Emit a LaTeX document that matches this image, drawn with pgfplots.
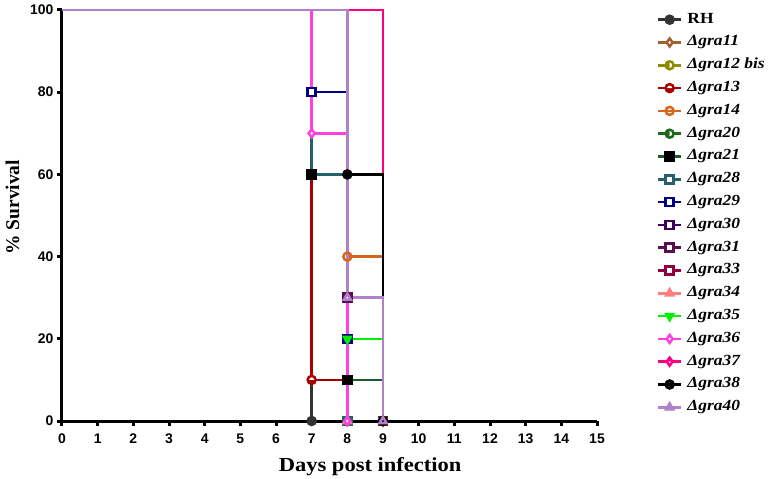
\documentclass[border=0pt]{standalone}
\usepackage{fontspec}
\setmainfont{Liberation Serif}
\newfontfamily\arialfont{Liberation Sans}
\newfontfamily\stretchserif[FakeStretch=1.13]{Liberation Serif}
\usepackage{pgfplots}
\pgfplotsset{compat=1.18}
\usetikzlibrary{plotmarks}
\definecolor{cRH}{HTML}{333333}
\definecolor{c11}{HTML}{A0622D}
\definecolor{c12}{HTML}{8C8C00}
\definecolor{c13}{HTML}{A80000}
\definecolor{c14}{HTML}{D8661A}
\definecolor{c20}{HTML}{1B6B1B}
\definecolor{c21}{HTML}{1A5C30}
\definecolor{c28}{HTML}{24606E}
\definecolor{c29}{HTML}{000080}
\definecolor{c30}{HTML}{3F0060}
\definecolor{c31}{HTML}{5A1050}
\definecolor{c33}{HTML}{900040}
\definecolor{c34}{HTML}{FF7F7F}
\definecolor{c35}{HTML}{00F000}
\definecolor{c36}{HTML}{FF40E0}
\definecolor{c37}{HTML}{FF0080}
\definecolor{c38}{HTML}{000000}
\definecolor{c40}{HTML}{B080C8}
\pgfplotsset{
  km/.style={const plot, line width=2.5bp, forget plot, no marks},
  mk/.style={only marks, line width=2.5bp, mark size=4bp, mark options={line width=1.3bp}},
}
\begin{document}
\begin{tikzpicture}
\begin{axis}[
  scale only axis, width=535bp, height=411bp,
  xmin=0, xmax=15, ymin=0, ymax=100,
  axis lines=left, axis line style={line width=3bp, -},
  xtick={0,1,...,15}, ytick={0,20,...,100},
  tick style={line width=3bp, black}, tick align=outside, major tick length=5bp,
  ticklabel style={font=\arialfont\bfseries\fontsize{14}{14}\selectfont},
  xticklabel style={yshift=-4.5bp},
  /pgf/number format/assume math mode=true,
  xlabel={Days post infection}, ylabel={\% Survival},
  every axis x label/.style={at={(axis description cs:0.576,-0.124)}, anchor=base,
    font=\stretchserif\bfseries\fontsize{20}{20}\selectfont},
  every axis y label/.style={at={(axis description cs:-0.0925,0.52)}, anchor=center, rotate=90,
    font=\bfseries\fontsize{19.5}{20}\selectfont},
  clip=false,
  legend cell align=left,
  legend style={at={(1.106,1.0)}, anchor=north west, draw=none, fill=none,
    font=\stretchserif\bfseries\itshape\fontsize{15.5}{15.5}\selectfont,
    row sep=7.8bp,
    nodes={inner sep=0pt, text height=11bp, text depth=4bp},
    /tikz/every odd column/.append style={column sep=5bp}},
  legend image code/.code={%
    \begin{scope}[#1]\draw (0bp,0bp) -- (23bp,0bp);\end{scope}%
    \draw[#1] plot coordinates {(11.5bp,0bp)};},
]
% RH
\addplot[km, cRH] coordinates {(0,100)(7,0)};
\addplot[mk, cRH, mark=*, mark options={fill=cRH}] coordinates {(7,0)};
\addlegendentry{\upshape RH}
% gra11
\addplot[km, c11] coordinates {(0,100)(8,0)};
\addplot[mk, c11, mark=diamond*, mark options={fill=white}] coordinates {(8,0)};
\addlegendentry{Δgra11}
% gra12 bis
\addplot[km, c12] coordinates {(0,100)(8,0)};
\addplot[mk, c12, mark=halfcircle*, mark options={fill=c12, rotate=90}] coordinates {(8,0)};
\addlegendentry{Δgra12 bis}
% gra13
\addplot[km, c13] coordinates {(0,100)(7,10)(8,0)};
\addplot[mk, c13, mark=halfcircle*, mark options={fill=c13, rotate=180}] coordinates {(7,10)(8,0)};
\addlegendentry{Δgra13}
% gra14
\addplot[km, c14] coordinates {(0,100)(8,40)(9,0)};
\addplot[mk, c14, mark=o, mark options={fill=white}] coordinates {(8,40)(9,0)};
\addlegendentry{Δgra14}
% gra20
\addplot[km, c20] coordinates {(0,100)(8,0)};
\addplot[mk, c20, mark=halfcircle*, mark options={fill=c20, rotate=90}] coordinates {(8,0)};
\addlegendentry{Δgra20}
% gra21
\addplot[km, c21] coordinates {(0,100)(7,60)(8,10)(9,0)};
\addplot[mk, c21, mark=square*, mark options={fill=black, draw=black}] coordinates {(7,60)(8,10)(9,0)};
\addlegendentry{Δgra21}
% gra28
\addplot[km, c28] coordinates {(0,100)(7,60)(8,0)};
\addplot[mk, c28, mark=square*, mark options={fill=white}] coordinates {(8,0)};
\addlegendentry{Δgra28}
% gra29
\addplot[km, c29] coordinates {(0,100)(7,80)(8,20)(9,0)};
\addplot[mk, c29, mark=square*, mark options={fill=white}] coordinates {(7,80)(8,20)(9,0)};
\addlegendentry{Δgra29}
% gra30
\addplot[km, c30] coordinates {(0,100)(8,30)(9,0)};
\addplot[mk, c30, mark=square*, mark options={fill=white}] coordinates {(8,30)(9,0)};
\addlegendentry{Δgra30}
% gra31
\addplot[km, c31] coordinates {(0,100)(8,30)(9,0)};
\addplot[mk, c31, mark=square*, mark options={fill=white}] coordinates {(8,30)(9,0)};
\addlegendentry{Δgra31}
% gra33
\addplot[km, c33] coordinates {(0,100)(9,0)};
\addplot[mk, c33, mark=square*, mark options={fill=white}] coordinates {(9,0)};
\addlegendentry{Δgra33}
% gra34
\addplot[km, c34] coordinates {(0,100)(8,0)};
\addplot[mk, c34, mark=triangle*, mark options={fill=c34}] coordinates {(8,0)};
\addlegendentry{Δgra34}
% gra35
\addplot[km, c35] coordinates {(0,100)(8,20)(9,0)};
\addplot[mk, c35, mark=triangle*, mark options={fill=c35, rotate=180}] coordinates {(8,20)(9,0)};
\addlegendentry{Δgra35}
% gra36
\addplot[km, c36] coordinates {(0,100)(7,70)(8,0)};
\addplot[mk, c36, mark=diamond*, mark options={fill=white}] coordinates {(7,70)(8,0)};
\addlegendentry{Δgra36}
% gra37
\addplot[km, c37] coordinates {(0,100)(9,0)};
\addplot[mk, c37, mark=halfdiamond*, mark options={fill=c37, rotate=180}] coordinates {(9,0)};
\addlegendentry{Δgra37}
% gra38
\addplot[km, c38] coordinates {(0,100)(8,60)(9,0)};
\addplot[mk, c38, mark=otimes, mark options={fill=white}] coordinates {(8,60)(9,0)};
\addlegendentry{Δgra38}
% gra40
\addplot[km, c40] coordinates {(0,100)(8,30)(9,0)};
\addplot[mk, c40, mark=triangle, mark options={fill=white}] coordinates {(8,30)(9,0)};
\addlegendentry{Δgra40}
\end{axis}
\pgfresetboundingbox
\path[use as bounding box] ([shift={(-62bp,-58bp)}]current axis.origin) rectangle ([shift={(710bp,421bp)}]current axis.origin);
\end{tikzpicture}
\end{document}
